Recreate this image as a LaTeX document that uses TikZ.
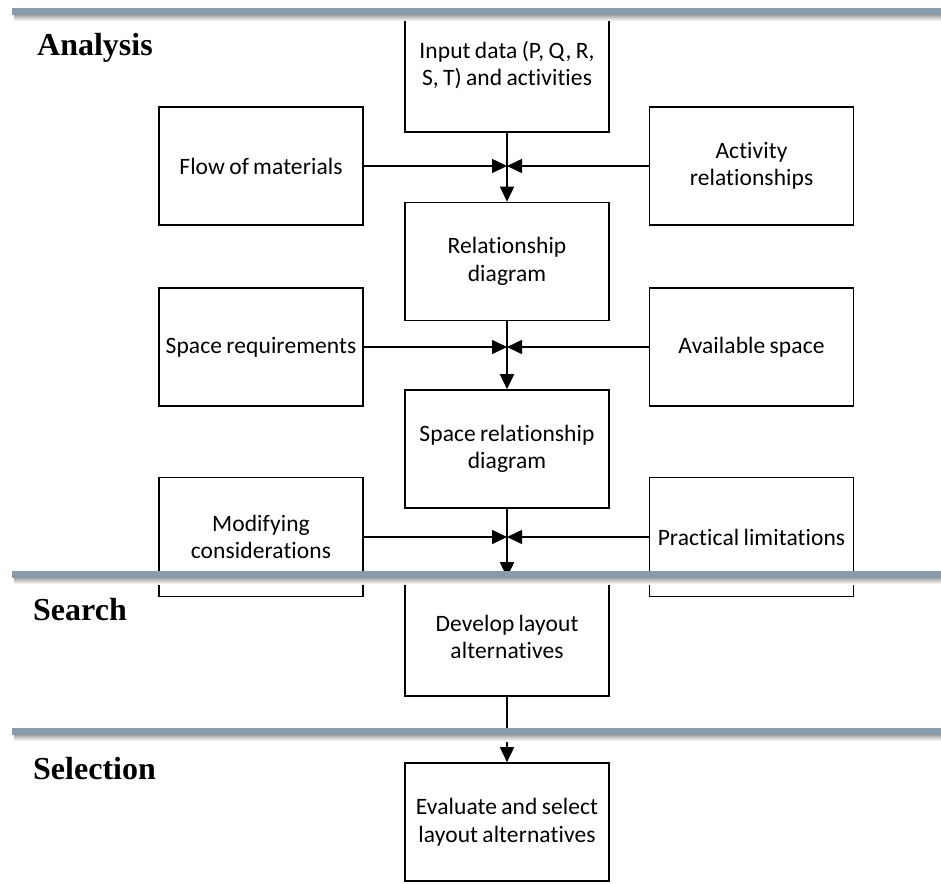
\documentclass[tikz,border=0pt]{standalone}
\usepackage{fontspec}
\setmainfont{Carlito}[Ligatures={NoCommon}, WordSpace=0.8, LetterSpace=0.4]
\newfontfamily\secfont{Liberation Serif}
\usetikzlibrary{arrows.meta}
\definecolor{barcol}{RGB}{137,155,171}
\begin{document}
\begin{tikzpicture}[x=1pt,y=-1pt,
  box/.style={draw, line width=1.6pt, minimum width=204pt, minimum height=118pt, inner sep=0pt, align=center, font=\fontsize{23.5}{27.5}\selectfont},
  boxtext/.style={align=center, font=\fontsize{23.5}{27.5}\selectfont, inner sep=0pt},
  conn/.style={line width=1.6pt, -{Triangle[length=15pt,width=14pt]}},
  sec/.style={anchor=base west, inner sep=0pt, font=\secfont\bfseries\fontsize{32}{36}\selectfont}]
\useasboundingbox (0,0) rectangle (941,883);
\begin{scope}
\clip (0,0) rectangle (941,883);
% central column
\node[box, minimum height=117pt] (inp) at (507,73.5) {};
\node[boxtext] (inptxt) at (507,65) {Input data (P, Q, R,\\S, T) and activities};
\node[box] (rel) at (507,261.5) {Relationship\\diagram};
\node[box] (srd) at (507,449) {Space relationship\\diagram};
\node[box] (dev) at (507,637) {Develop layout\\alternatives};
\node[box] (eva) at (507,822) {Evaluate and select\\layout alternatives};
% side boxes
\node[box] (flow) at (261,166) {Flow of materials};
\node[box] (act) at (751.5,166) {Activity\\relationships};
\node[box] (spr) at (261,347) {Space requirements};
\node[box] (avs) at (751.5,347) {Available space};
\node[box, minimum height=119pt] (mod) at (261,537) {Modifying\\considerations};
\node[box, minimum height=119pt] (pra) at (751.5,537) {Practical limitations};
% junctions
\coordinate (j1) at (inp.south |- flow.east);
\coordinate (j2) at (rel.south |- spr.east);
\coordinate (j3) at (srd.south |- mod.east);
% connectors
\draw[conn] (inp.south) -- (rel.north);
\draw[conn] (rel.south) -- (srd.north);
\draw[conn] (srd.south) -- (dev.north);
\draw[conn] (dev.south) -- (eva.north);
\draw[conn] (flow.east) -- (j1);
\draw[conn] (act.west) -- (j1);
\draw[conn] (spr.east) -- (j2);
\draw[conn] (avs.west) -- (j2);
\draw[conn] (mod.east) -- (j3);
\draw[conn] (pra.west) -- (j3);
% phase bars
\foreach \y in {8,571,728} {
  \shade[top color=black!35, bottom color=white] (14,\y+7) rectangle (941,\y+13);
  \fill[barcol] (12,\y) rectangle (941,\y+7);
}
\end{scope}
% section labels
\node[sec] (lana) at (37,56) {Analysis};
\node[sec] (lsea) at (33,620) {Search};
\node[sec] (lsel) at (33,779) {Selection};
\end{tikzpicture}
\end{document}
